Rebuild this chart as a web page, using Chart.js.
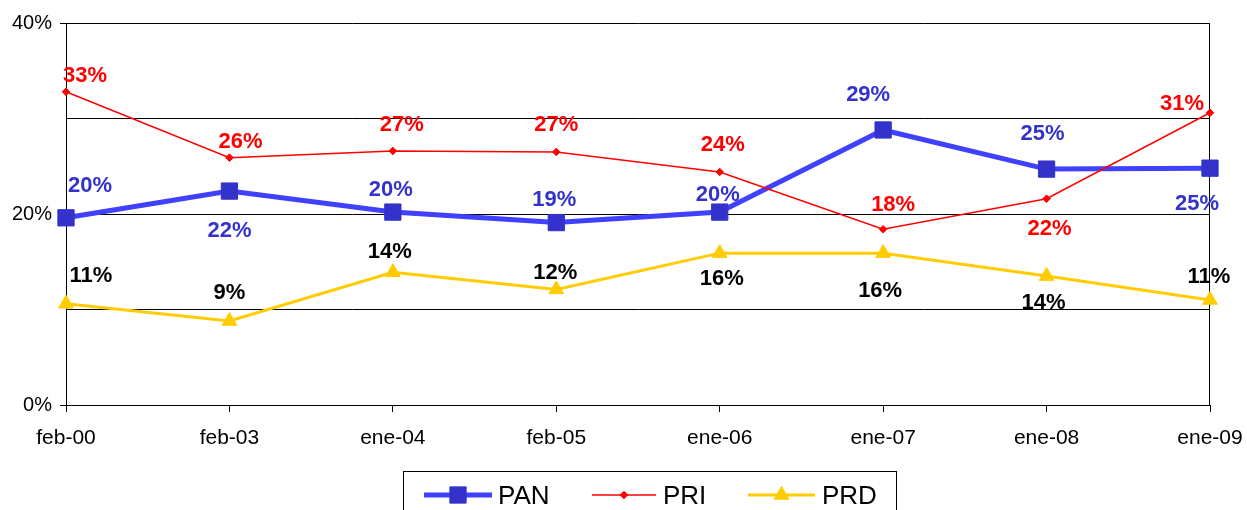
<!DOCTYPE html>
<html><head><meta charset="utf-8">
<script src="https://cdn.jsdelivr.net/npm/chart.js@4.4.0/dist/chart.umd.min.js"></script>
<style>html,body{margin:0;padding:0;background:#fff;overflow:hidden}#wrap{width:1247px;height:510px;position:relative}</style>
</head><body><div id="wrap"><canvas id="c" width="1247" height="510"></canvas></div>
<script>
const categories = ['feb-00','feb-03','ene-04','feb-05','ene-06','ene-07','ene-08','ene-09'];
const seriesNames = ['PAN','PRI','PRD'];
const panValues = [19.6, 22.4, 20.2, 19.1, 20.2, 28.8, 24.7, 24.8];
const priValues = [32.8, 25.9, 26.6, 26.5, 24.4, 18.4, 21.6, 30.6];
const prdValues = [10.6, 8.8, 13.9, 12.1, 15.9, 15.9, 13.5, 11.0];
const yMin = 0, yMax = 40, yStep = 10, yLabelEvery = 20;

const FONT = 'Arial, "Liberation Sans", sans-serif';

// label placement (style config, pixel offsets from the point)
const labelOffsets = [
  [[24,-34],[0,38],[-2,-24],[-2,-25],[-2,-19],[-15,-37],[-4,-37],[-13,34]],
  [[19,-18],[11,-18],[9,-28],[0,-29],[3,-29],[10,-26],[3,28],[-28,-11]],
  [[25,-30],[0,-30],[-3,-22],[-1,-19],[2,24],[-3,36],[-3,25],[-1,-25]]
];
const labelColors = ['#3333CC','#FF0000','#000000'];

const styles = [
  {line:'#4040FF', width:5, point:'rect', radius:11.5, fill:'#3333CC'},
  {line:'#FF0000', width:1.5, point:'rectRot', radius:3.8, fill:'#FF0000'},
  {line:'#FFCC00', width:3, point:'triangle', radius:8.5, fill:'#FFCC00'}
];
const allValues = [panValues, priValues, prdValues];

const datasets = allValues.map((vals, i) => ({
  label: seriesNames[i],
  data: vals,
  borderColor: styles[i].line,
  borderWidth: styles[i].width,
  backgroundColor: styles[i].fill,
  pointStyle: styles[i].point,
  pointRadius: styles[i].radius,
  pointHoverRadius: styles[i].radius,
  pointBackgroundColor: styles[i].fill,
  pointBorderColor: styles[i].fill,
  pointBorderWidth: 1,
  tension: 0,
  fill: false,
  clip: false,
  order: 3 - i
}));

const extras = {
  id: 'extras',
  beforeDatasetsDraw(chart) {
    const {ctx, chartArea: a} = chart;
    ctx.save();
    ctx.strokeStyle = '#000';
    ctx.lineWidth = 1;
    ctx.beginPath();
    const xr = Math.round(a.right) - 0.5;
    ctx.moveTo(xr, Math.round(a.top) + 0.5);
    ctx.lineTo(xr, Math.round(a.bottom) + 0.5);
    ctx.stroke();
    ctx.restore();
  },
  afterDatasetsDraw(chart) {
    const ctx = chart.ctx;
    ctx.save();
    ctx.font = 'bold 22px ' + FONT;
    ctx.textAlign = 'center';
    ctx.textBaseline = 'middle';
    chart.data.datasets.forEach((ds, i) => {
      const meta = chart.getDatasetMeta(i);
      meta.data.forEach((pt, j) => {
        const off = labelOffsets[i][j];
        ctx.fillStyle = labelColors[i];
        ctx.fillText(Math.round(ds.data[j]) + '%', pt.x + off[0], pt.y + off[1] + 2);
      });
    });
    ctx.restore();
  },
  afterDraw(chart) {
    const ctx = chart.ctx;
    ctx.save();
    // legend box
    ctx.strokeStyle = '#000';
    ctx.lineWidth = 1;
    ctx.strokeRect(403.5, 471.5, 493, 50);
    const cy = 495;
    const items = [
      {x1:424, x2:492, tx:498},
      {x1:592, x2:656, tx:663},
      {x1:748, x2:815, tx:822}
    ];
    items.forEach((it, i) => {
      const st = styles[i];
      ctx.strokeStyle = st.line;
      ctx.lineWidth = st.width;
      ctx.beginPath();
      ctx.moveTo(it.x1, cy);
      ctx.lineTo(it.x2, cy);
      ctx.stroke();
      ctx.fillStyle = st.fill;
      ctx.strokeStyle = st.fill;
      ctx.lineWidth = 1;
      Chart.helpers.drawPoint(ctx, {pointStyle: st.point, radius: st.radius, rotation: 0, borderWidth: 1}, (it.x1 + it.x2) / 2, cy);
      ctx.fillStyle = '#000';
      ctx.font = '26px ' + FONT;
      ctx.textAlign = 'left';
      ctx.textBaseline = 'alphabetic';
      ctx.fillText(seriesNames[i], it.tx, 504);
    });
    ctx.restore();
  }
};

new Chart(document.getElementById('c'), {
  type: 'line',
  data: {labels: categories, datasets},
  options: {
    responsive: false,
    animation: false,
    layout: {padding: {left: 0, top: 23, right: 37, bottom: 0}},
    plugins: {legend: {display: false}, tooltip: {enabled: false}},
    scales: {
      x: {
        offset: false,
        grid: {display: true, drawOnChartArea: false, drawTicks: true, tickLength: 7, tickColor: '#000', color: '#000'},
        border: {display: true, color: '#000', width: 1},
        ticks: {color: '#000', font: {family: FONT, size: 21}, padding: 14, maxRotation: 0, autoSkip: false},
        afterFit(s) { s.height = 105; s.paddingLeft = 0; s.paddingRight = 0; }
      },
      y: {
        min: yMin, max: yMax,
        grid: {
          color: '#000', lineWidth: 1, drawTicks: true, tickLength: 6,
          tickColor: c => (c.tick && c.tick.value % yLabelEvery === 0) ? '#000' : 'rgba(0,0,0,0)'
        },
        border: {display: true, color: '#000', width: 1},
        ticks: {
          stepSize: yStep, color: '#000', font: {family: FONT, size: 20}, padding: 8,
          callback: v => (v % yLabelEvery === 0 ? v + '%' : '')
        },
        afterFit(s) { s.width = 66; s.paddingTop = 0; s.paddingBottom = 0; }
      }
    }
  },
  plugins: [extras]
});
</script></body></html>
